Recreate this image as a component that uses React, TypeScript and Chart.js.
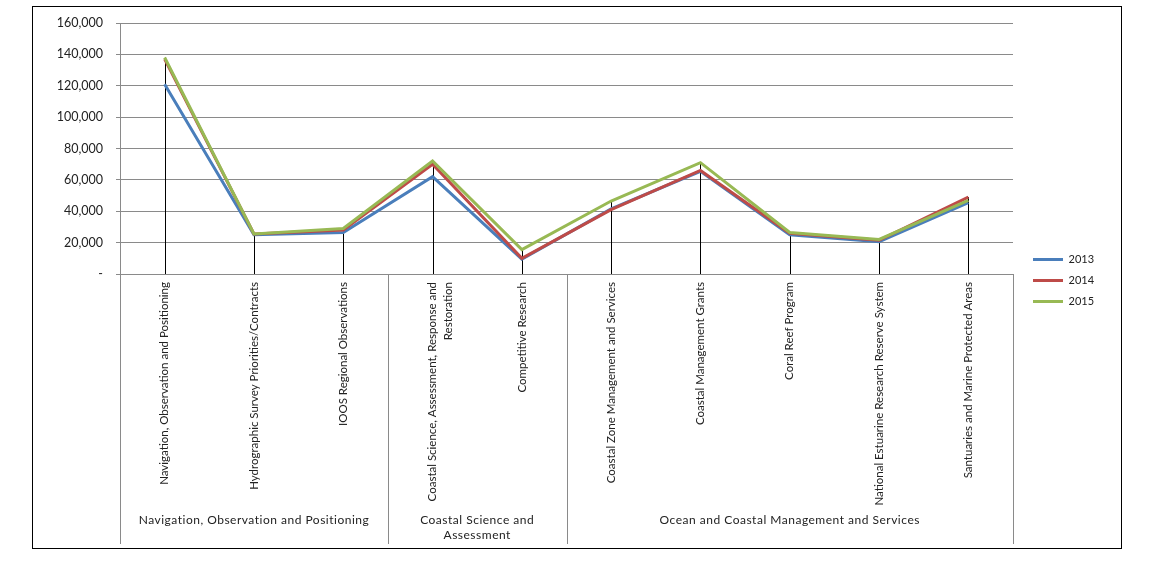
import React, { useEffect, useRef } from "react";
import { Chart, registerables } from "chart.js";

Chart.register(...registerables);

const categories: (string | string[])[] = [
  "Navigation, Observation and Positioning",
  "Hydrographic Survey Priorities/Contracts",
  "IOOS Regional Observations",
  ["Coastal Science, Assessment, Response and", "Restoration"],
  "Competitive Research",
  "Coastal Zone Management and Services",
  "Coastal Management Grants",
  "Coral Reef Program",
  "National Estuarine Research Reserve System",
  "Santuaries and Marine Protected Areas",
];

const series2013 = [121000, 25000, 26500, 62000, 9500, 41500, 65500, 25000, 20500, 45500];
const series2014 = [137000, 25500, 28000, 70000, 10000, 41000, 66000, 26000, 21500, 49000];
const series2015 = [138000, 25500, 29000, 72000, 15500, 46500, 71000, 26500, 22000, 47000];

const seriesLabels = ["2013", "2014", "2015"];
const seriesColors = ["#4a7ebb", "#be4b48", "#98b954"];

const groupLabels: string[][] = [
  ["Navigation, Observation and Positioning"],
  ["Coastal Science and", "Assessment"],
  ["Ocean and Coastal Management and Services"],
];
const groupSizes = [3, 2, 5];

const yTicks = [0, 20000, 40000, 60000, 80000, 100000, 120000, 140000, 160000];

const FONT = "Lato";
const GRID = "#8a8a8a";

const decorPlugin = {
  id: "decor",
  beforeLayout(chart: any) {
    const lg = chart.legend;
    if (lg && !lg.__patched) {
      const f = lg.fit;
      lg.fit = function () {
        f.call(this);
        this.width = 108;
      };
      lg.__patched = true;
    }
  },
  afterLayout(chart: any) {
    const lg = chart.legend;
    if (lg) {
      lg.left += 10;
      lg.right += 10;
      lg.top -= 3;
      lg.bottom -= 3;
    }
  },
  beforeDatasetsDraw(chart: any) {
    const { ctx, scales } = chart;
    const x = scales.x;
    const y = scales.y;
    ctx.save();
    ctx.strokeStyle = "#000";
    ctx.lineWidth = 1;
    const base = y.getPixelForValue(0);
    categories.forEach((_, i) => {
      const px = Math.round(x.getPixelForValue(i)) + 0.5;
      const top = y.getPixelForValue(Math.max(series2013[i], series2014[i], series2015[i]));
      ctx.beginPath();
      ctx.moveTo(px, top);
      ctx.lineTo(px, base);
      ctx.stroke();
    });
    ctx.restore();
  },
  afterDraw(chart: any) {
    const { ctx, scales, chartArea } = chart;
    const x = scales.x;
    const n = categories.length;
    const boundary = (b: number) => {
      if (b <= 0) return chartArea.left;
      if (b >= n) return chartArea.right;
      return (x.getPixelForValue(b - 1) + x.getPixelForValue(b)) / 2;
    };
    ctx.save();
    ctx.strokeStyle = GRID;
    ctx.lineWidth = 1;
    let start = 0;
    const bounds: number[] = [0];
    groupSizes.forEach((s) => {
      start += s;
      bounds.push(start);
    });
    bounds.forEach((b) => {
      const px = Math.round(boundary(b)) + 0.5;
      ctx.beginPath();
      ctx.moveTo(px, x.top);
      ctx.lineTo(px, x.bottom);
      ctx.stroke();
    });
    ctx.fillStyle = "#222";
    ctx.font = `12px ${FONT}`;
    (ctx as any).letterSpacing = "0.5px";
    ctx.textAlign = "center";
    ctx.textBaseline = "middle";
    groupLabels.forEach((lines, gi) => {
      const cx = (boundary(bounds[gi]) + boundary(bounds[gi + 1])) / 2;
      lines.forEach((line, li) => {
        ctx.fillText(line, cx, x.bottom - 24 + li * 15);
      });
    });
    ctx.restore();
  },
};

export default function App() {
  const ref = useRef<HTMLCanvasElement | null>(null);

  useEffect(() => {
    if (!ref.current) return;
    const data = [series2013, series2014, series2015];
    const chart = new Chart(ref.current, {
      type: "line",
      data: {
        labels: categories,
        datasets: data.map((d, i) => ({
          label: seriesLabels[i],
          data: d,
          order: data.length - i,
          borderColor: seriesColors[i],
          backgroundColor: seriesColors[i],
          borderWidth: 3,
          pointRadius: 0,
          pointHoverRadius: 0,
          pointHitRadius: 0,
          pointStyle: "line",
          tension: 0,
          fill: false,
        })),
      },
      options: {
        responsive: false,
        animation: false,
        layout: { padding: { top: 16, left: 0, right: 0, bottom: 4 } },
        plugins: {
          legend: {
            position: "right",
            align: "center",
            labels: {
              usePointStyle: true,
              pointStyle: "line",
              pointStyleWidth: 30,
              padding: 10,
              color: "#222",
              font: { family: FONT, size: 11 },
              sort: (a: any, b: any) => a.datasetIndex - b.datasetIndex,
            },
          },
          tooltip: { enabled: false },
        },
        scales: {
          x: {
            type: "category",
            offset: true,
            grid: { display: false, drawTicks: false },
            border: { display: true, color: GRID, width: 1 },
            ticks: {
              autoSkip: false,
              maxRotation: 90,
              minRotation: 90,
              padding: 8,
              color: "#222",
              font: { family: FONT, size: 11.5, lineHeight: 1.4 },
            },
            afterFit: (s: any) => {
              s.height = 270;
              s.paddingTop = 0;
              s.paddingBottom = 0;
            },
          },
          y: {
            min: 0,
            max: 160000,
            afterBuildTicks: (s: any) => {
              s.ticks = yTicks.map((v) => ({ value: v }));
            },
            grid: { color: GRID, lineWidth: 1, tickLength: 4, drawTicks: true },
            border: { display: true, color: GRID, width: 1 },
            ticks: {
              padding: 13,
              color: "#222",
              font: { family: FONT, size: 12.5 },
              callback: (v: any) => (Number(v) === 0 ? "-" : Number(v).toLocaleString("en-US")),
            },
            afterFit: (s: any) => {
              s.width = 87;
              s.paddingTop = 0;
              s.paddingBottom = 0;
            },
          },
        },
      },
      plugins: [decorPlugin],
    });
    return () => chart.destroy();
  }, []);

  return (
    <div
      style={{
        position: "absolute",
        left: 32,
        top: 6,
        width: 1090,
        height: 543,
        border: "1px solid #000",
        boxSizing: "border-box",
        background: "#fff",
      }}
    >
      <canvas ref={ref} width={1088} height={541} style={{ display: "block" }} />
    </div>
  );
}
